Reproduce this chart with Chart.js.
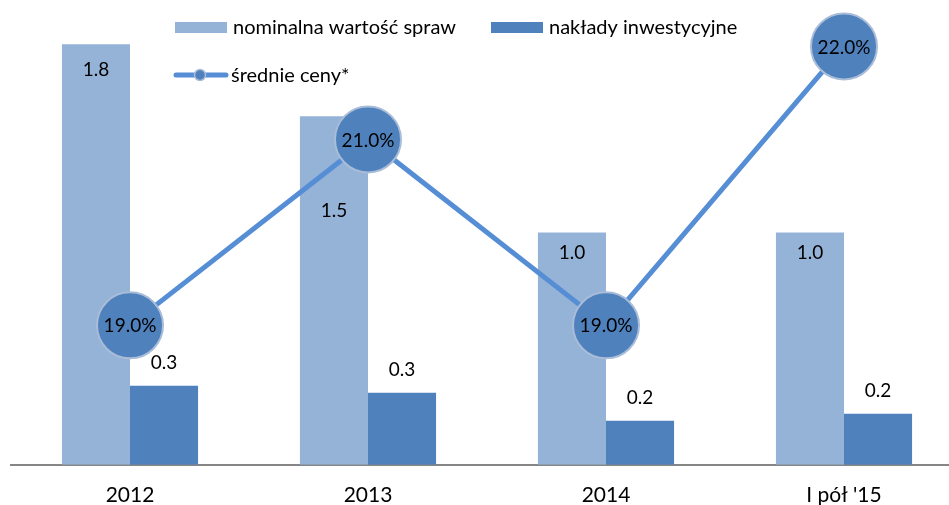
<!DOCTYPE html>
<html><head><meta charset="utf-8">
<script src="https://cdn.jsdelivr.net/npm/chart.js@4"></script>
<style>
html,body{margin:0;padding:0;overflow:hidden;background:#fff;width:949px;height:505px}
#wrap{position:relative;width:975px;height:505px}
</style></head>
<body><div id="wrap"><canvas id="c" width="975" height="505"></canvas></div>
<script>
// ---- data ----
const categories = ['2012', '2013', '2014', "I pół '15"];
const nominalValues = [1.81, 1.5, 1.0, 1.0];
const investmentValues = [0.34, 0.31, 0.19, 0.22];
const averagePrices = [19.0, 21.0, 19.0, 22.0];
const seriesNames = ['nominalna wartość spraw', 'nakłady inwestycyjne', 'średnie ceny*'];

// ---- styles ----
const FONT = 'Lato, "Open Sans", sans-serif';
const LIGHT = '#95b3d7', DARK = '#4f81bd', LINE = '#558ed5', RING = '#a9bcd8';
// label placement (offsets from bar tops), not data
const nominalLabelOffsets = [26, 95, 20, 20];   // below top, inside bar
const investLabelOffset = 23;                   // above bar top

const labelPlugin = {
  id: 'labels',
  afterDatasetsDraw(chart) {
    const ctx = chart.ctx;
    ctx.save();
    ctx.fillStyle = '#000';
    ctx.textAlign = 'center';
    ctx.textBaseline = 'middle';
    ctx.font = '19px ' + FONT;
    const m0 = chart.getDatasetMeta(0), m1 = chart.getDatasetMeta(1), m2 = chart.getDatasetMeta(2);
    m0.data.forEach((el, i) => {
      ctx.fillText(chart.data.datasets[0].data[i].toFixed(1), el.x, el.y + nominalLabelOffsets[i]);
    });
    m1.data.forEach((el, i) => {
      ctx.fillText(chart.data.datasets[1].data[i].toFixed(1), el.x, el.y - investLabelOffset);
    });
    m2.data.forEach((el, i) => {
      ctx.fillText(chart.data.datasets[2].data[i].toFixed(1) + '%', el.x, el.y + 1);
    });
    ctx.restore();
  }
};

const legendPlugin = {
  id: 'customLegend',
  afterDraw(chart) {
    const ctx = chart.ctx;
    const ds = chart.data.datasets;
    ctx.save();
    ctx.font = '20px ' + FONT;
    ctx.textBaseline = 'middle';
    ctx.textAlign = 'left';
    // row 1
    ctx.fillStyle = ds[0].backgroundColor; ctx.fillRect(175, 22, 52, 11);
    ctx.fillStyle = '#000'; ctx.fillText(ds[0].label, 233, 28);
    ctx.fillStyle = ds[1].backgroundColor; ctx.fillRect(491, 22, 52, 11);
    ctx.fillStyle = '#000'; ctx.fillText(ds[1].label, 549, 28);
    // row 2
    ctx.strokeStyle = ds[2].borderColor; ctx.lineWidth = 5; ctx.lineCap = 'round';
    ctx.beginPath(); ctx.moveTo(176, 75); ctx.lineTo(226, 75); ctx.stroke();
    ctx.beginPath(); ctx.arc(200, 75, 5.5, 0, Math.PI * 2);
    ctx.fillStyle = ds[2].pointBackgroundColor; ctx.fill();
    ctx.lineWidth = 1.5; ctx.strokeStyle = ds[2].pointBorderColor; ctx.stroke();
    ctx.fillStyle = '#000'; ctx.fillText(ds[2].label, 231, 76);
    ctx.restore();
  }
};

new Chart(document.getElementById('c'), {
  type: 'bar',
  data: {
    labels: categories,
    datasets: [
      { label: seriesNames[0], data: nominalValues, backgroundColor: LIGHT, yAxisID: 'y', order: 2,
        categoryPercentage: 0.572, barPercentage: 1.0 },
      { label: seriesNames[1], data: investmentValues, backgroundColor: DARK, yAxisID: 'y', order: 2,
        categoryPercentage: 0.572, barPercentage: 1.0 },
      { type: 'line', label: seriesNames[2], data: averagePrices, yAxisID: 'y2', order: 0,
        borderColor: LINE, borderWidth: 5, pointRadius: 33, pointHoverRadius: 33,
        pointBackgroundColor: DARK, pointBorderColor: RING, pointBorderWidth: 2,
        tension: 0, clip: false, fill: false }
    ]
  },
  options: {
    responsive: false,
    animation: false,
    events: [],
    layout: { autoPadding: false, padding: { left: 11, right: 12, top: 0, bottom: -21 } },
    plugins: { legend: { display: false }, tooltip: { enabled: false } },
    scales: {
      x: {
        grid: { display: false, drawTicks: false },
        border: { display: true, color: '#868686', width: 2 },
        ticks: { color: '#000', font: { family: FONT, size: 21, lineHeight: 1.2 }, padding: 18, maxRotation: 0 }
      },
      y: { display: false, min: 0, max: 2.0 },
      y2: { display: false, min: 17.5, max: 22.5, position: 'right' }
    }
  },
  plugins: [labelPlugin, legendPlugin]
});
</script>
</body></html>
